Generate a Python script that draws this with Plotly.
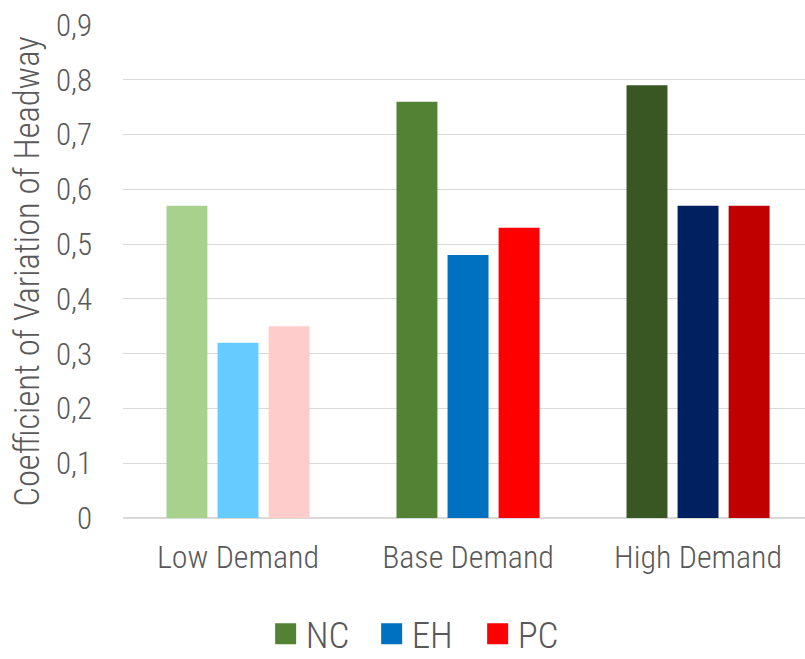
import plotly.graph_objects as go

# Demand scenarios and coefficient of variation of headway per control strategy
scenarios = ["Low Demand", "Base Demand", "High Demand"]
nc_values = [0.57, 0.76, 0.79]
eh_values = [0.32, 0.48, 0.57]
pc_values = [0.35, 0.53, 0.57]

# Shades per scenario (light / medium / dark); legend uses the medium shade
nc_colors = ["#A9D18E", "#548235", "#385723"]
eh_colors = ["#66CCFF", "#0070C0", "#002060"]
pc_colors = ["#FFCCCC", "#FF0000", "#C00000"]

FONT = "Roboto Condensed, Arial Narrow, sans-serif"
GREY = "#595959"

BAR_W = 0.178    # bar width in category units
STRIDE = 0.222   # distance between neighbouring bars inside a group

series = [
    ("NC", nc_values, nc_colors, -STRIDE),
    ("EH", eh_values, eh_colors, 0.0),
    ("PC", pc_values, pc_colors, STRIDE),
]

fig = go.Figure()
xs = list(range(len(scenarios)))
for name, vals, cols, shift in series:
    fig.add_trace(go.Bar(
        x=xs, y=vals, name=name,
        width=BAR_W, offset=shift - BAR_W / 2,
        marker=dict(color=cols, line=dict(width=0)),
        showlegend=False,
    ))
for name, vals, cols, shift in series:
    # legend entry drawn with the medium shade as a filled square
    fig.add_trace(go.Scatter(
        x=[None], y=[None], name=name, mode="markers",
        marker=dict(symbol="square", size=16, color=cols[1],
                    line=dict(color=cols[1], width=5)),
        showlegend=True,
    ))

fig.update_layout(
    width=805, height=659,
    margin=dict(l=123, r=0, t=25, b=141),
    paper_bgcolor="white", plot_bgcolor="white",
    barmode="overlay",
    separators=",.",
    font=dict(family=FONT, color=GREY, weight=300),
    xaxis=dict(
        tickmode="array", tickvals=xs, ticktext=scenarios,
        range=[-0.5, 2.465], showgrid=False, zeroline=False,
        showline=False, ticks="", ticklabelstandoff=17,
        tickfont=dict(size=32, color=GREY, weight=300),
    ),
    yaxis=dict(
        range=[0, 0.9], dtick=0.1, tick0=0,
        showgrid=True, gridcolor="#D9D9D9", gridwidth=1.3,
        zeroline=True, zerolinecolor="#D9D9D9", zerolinewidth=2,
        showline=False, ticks="", ticklabelstandoff=30,
        tickfont=dict(size=31, color=GREY, weight=300),
        title=dict(text="Coefficient of Variation of Headway",
                   font=dict(size=34.5, color=GREY, weight=300), standoff=5),
    ),
    legend=dict(
        orientation="h", xref="container", yref="container",
        x=0.330, xanchor="left", y=0.0376, yanchor="middle",
        font=dict(size=37, color=GREY, weight=300), traceorder="normal",
        itemwidth=30, entrywidth=61, entrywidthmode="pixels",
    ),
)

fig.write_html("out.html")
